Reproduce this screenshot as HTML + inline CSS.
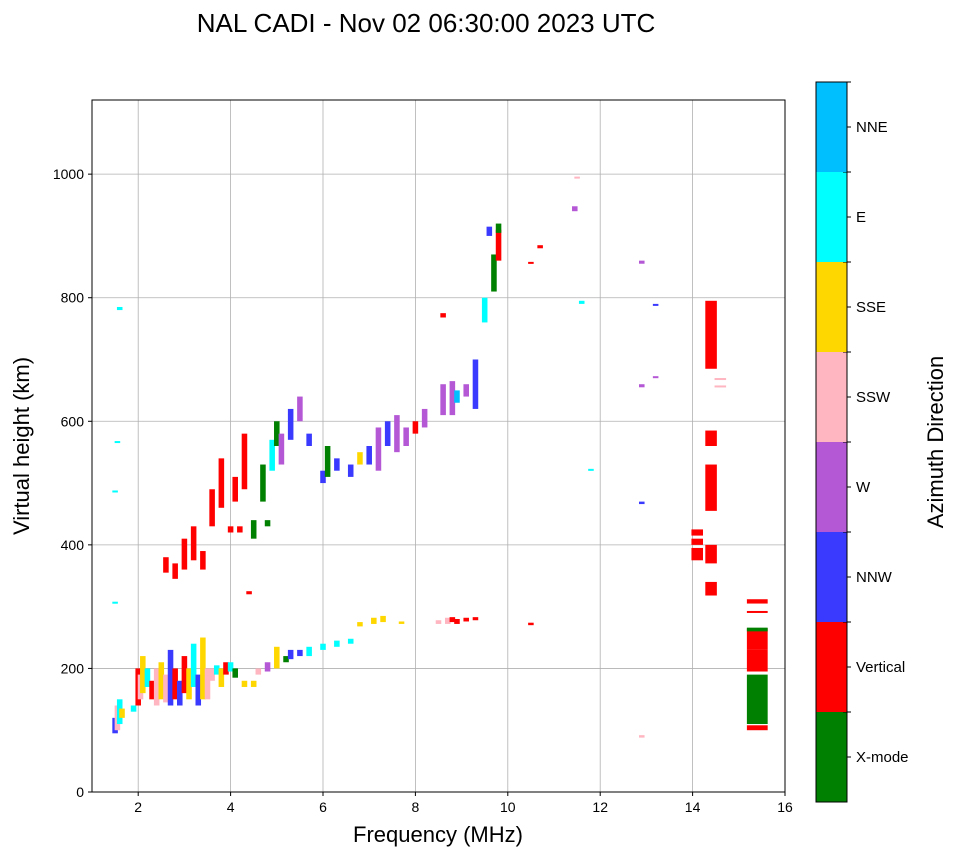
<!DOCTYPE html>
<html><head><meta charset="utf-8"><style>
body{margin:0;background:#fff;font-family:"Liberation Sans",sans-serif}
svg text{font-family:"Liberation Sans",sans-serif}
</style></head><body>
<svg id="chart" width="958" height="857">
<text x="426" y="32" text-anchor="middle" font-size="26">NAL CADI - Nov 02 06:30:00 2023 UTC</text>
<g id="grid"></g>
<g id="marks"></g>
<rect x="92" y="100" width="693" height="692" fill="none" stroke="#000" stroke-width="1"/>
<g id="axes"></g>
<text x="438" y="842" text-anchor="middle" font-size="22">Frequency (MHz)</text>
<text transform="translate(29,446) rotate(-90)" text-anchor="middle" font-size="22">Virtual height (km)</text>
<g id="cbar"></g>
<text transform="translate(943,442) rotate(-90)" text-anchor="middle" font-size="22">Azimuth Direction</text>
</svg>
<script>
const xTicks=[2,4,6,8,10,12,14,16];
const yTicks=[0,200,400,600,800,1000];
const dirNames=["X-mode","Vertical","NNW","W","SSW","SSE","E","NNE"];
const dirColors=["#008000","#ff0000","#3a3aff","#b558d6","#ffb6c1","#ffd700","#00ffff","#00bfff"];
const freqs=[1.5,1.55,1.6,1.65,1.9,2.0,2.05,2.1,2.2,2.3,2.4,2.5,2.6,2.7,2.8,2.9,3.0,3.1,3.2,3.3,3.4,3.5,3.6,3.7,3.8,3.9,4.0,4.1,4.3,4.5,4.6,4.8,5.0,5.2,5.3,5.5,5.7,6.0,6.3,6.6,6.8,7.1,7.3,7.7,8.5,8.7,8.8,8.9,9.1,9.3,10.5,12.9,
2.6,2.8,3.0,3.2,3.4,3.6,3.8,4.0,4.1,4.2,4.3,4.4,4.5,4.7,4.8,4.9,5.0,5.1,5.3,5.5,5.7,6.0,6.1,6.3,6.6,6.8,7.0,7.2,7.4,7.6,7.8,8.0,8.2,8.6,8.8,8.9,9.1,9.3,9.5,9.7,9.8,9.6,9.8,8.6,10.5,10.7,11.45,11.5,11.6,11.8,12.9,12.9,13.2,12.9,13.2,1.6,1.55,1.5,1.5,
14.1,14.1,14.1,14.4,14.4,14.4,14.4,14.4,14.6,14.6,15.4,15.4,15.4,15.4,15.4,15.4,15.4];
const lows=[95,100,110,120,130,140,150,160,170,150,140,150,145,140,150,140,160,150,170,140,150,150,180,190,170,190,195,185,170,170,190,195,200,210,215,220,220,230,235,240,268,272,275,272,272,272,275,272,276,278,270,88,
355,345,360,375,360,430,460,420,470,420,490,320,410,470,430,520,560,530,570,600,560,500,510,520,510,530,530,520,560,550,560,580,590,610,610,630,640,620,760,810,860,900,905,768,855,880,940,993,790,520,855,655,670,466,787,780,565,485,305,
415,400,375,685,560,455,370,318,668,655,305,290,230,195,110,100,260];
const highs=[120,140,150,135,140,200,190,220,200,180,200,210,190,230,200,180,220,200,240,190,250,200,200,205,200,210,210,200,180,180,200,210,235,220,230,230,235,240,245,248,275,282,285,276,278,282,283,280,282,283,274,92,
380,370,410,430,390,490,540,430,510,430,580,325,440,530,440,570,600,580,620,640,580,520,560,540,530,550,560,590,600,610,590,600,620,660,665,650,660,700,800,870,910,915,920,775,858,885,948,996,795,523,860,660,673,470,790,785,568,488,308,
425,410,395,795,585,530,400,340,670,658,312,293,265,230,190,108,266];
const dirs=[2,4,6,5,6,1,4,5,6,1,4,5,4,2,1,2,1,5,6,2,5,4,4,6,5,1,6,0,5,5,4,3,5,0,2,2,6,6,6,6,5,5,5,5,4,4,1,1,1,1,1,4,
1,1,1,1,1,1,1,1,1,1,1,1,0,0,0,6,0,3,2,3,2,2,0,2,2,5,2,3,2,3,3,1,3,3,3,7,3,2,6,0,1,2,0,1,1,1,3,4,6,6,3,3,3,2,2,6,6,6,6,
1,1,1,1,1,1,1,1,4,4,1,1,1,1,0,1,0];
const NS="http://www.w3.org/2000/svg";
const X0=92,X1=785,Y0=792,Y1=100,FMIN=1,FMAX=16,HMIN=0,HMAX=1120;
function sx(f){return X0+(f-FMIN)/(FMAX-FMIN)*(X1-X0);}
function sy(h){return Y0-(h-HMIN)/(HMAX-HMIN)*(Y0-Y1);}
function mk(tag,attrs,parent){const e=document.createElementNS(NS,tag);for(const k in attrs)e.setAttribute(k,attrs[k]);parent.appendChild(e);return e;}
const grid=document.getElementById('grid'),axes=document.getElementById('axes'),marks=document.getElementById('marks'),cbar=document.getElementById('cbar');
xTicks.forEach(t=>{const x=sx(t);
 const g=mk('line',{x1:x,x2:x,y1:Y1,y2:Y0,stroke:'#b0b0b0','stroke-width':0.8},grid);
 
 
 mk('line',{x1:x,x2:x,y1:Y0,y2:Y0+4,stroke:'#000'},axes);
 const tx=mk('text',{x:x,y:Y0+20,'text-anchor':'middle','font-size':14},axes);tx.textContent=t;
 
 });
yTicks.forEach(t=>{const y=sy(t);
 const g=mk('line',{x1:X0,x2:X1,y1:y,y2:y,stroke:'#b0b0b0','stroke-width':0.8},grid);
 
 
 mk('line',{x1:X0-4,x2:X0,y1:y,y2:y,stroke:'#000'},axes);
 const tx=mk('text',{x:X0-8,y:y+5,'text-anchor':'end','font-size':14},axes);tx.textContent=t;
 
 });
for(let i=0;i<freqs.length;i++){
 const f=freqs[i];const w=f>=15?0.45:(f>=14?0.25:0.12);
 const x=sx(f-w/2),x2=sx(f+w/2);const yt=sy(highs[i]),yb=sy(lows[i]);
 const r=mk('rect',{x:x,y:yt,width:x2-x,height:Math.max(2,yb-yt),fill:dirColors[dirs[i]]},marks);
 
 }
const CX=816,CW=31,CT=82,CB=802,seg=(CB-CT)/dirNames.length;
dirNames.forEach((n,i)=>{const y=CB-(i+1)*seg;
 const r=mk('rect',{x:CX,y:y,width:CW,height:seg,fill:dirColors[i]},cbar);
 
 
 mk('line',{x1:CX+CW,x2:CX+CW+4,y1:y+seg/2,y2:y+seg/2,stroke:'#000'},cbar);
 mk('line',{x1:CX+CW-4,x2:CX+CW+4,y1:y,y2:y,stroke:'#000'},cbar);
 const t=mk('text',{x:CX+CW+9,y:y+seg/2+5,'font-size':15},cbar);t.textContent=n;
 
 });
mk('rect',{x:CX,y:CT,width:CW,height:CB-CT,fill:'none',stroke:'#000'},cbar);
</script>
</body></html>
